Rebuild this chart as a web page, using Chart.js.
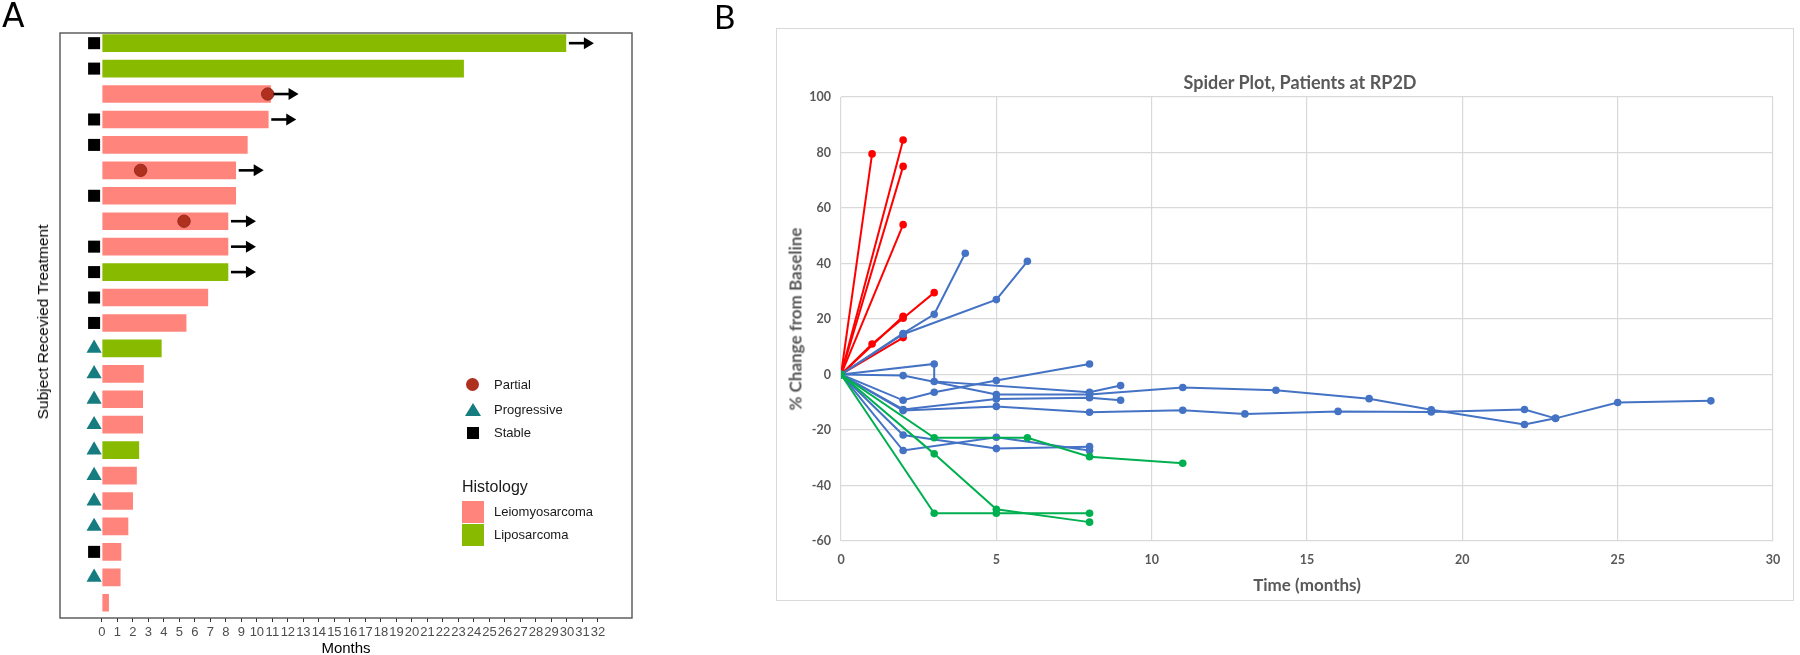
<!DOCTYPE html>
<html><head><meta charset="utf-8">
<script src="https://cdn.jsdelivr.net/npm/chart.js@4.4.1/dist/chart.umd.min.js"></script>
<style>
html,body{margin:0;padding:0;background:#fff;}
body{width:1800px;height:655px;position:relative;overflow:hidden;font-family:"Liberation Sans",Arial,sans-serif;}
.abs{position:absolute;white-space:nowrap;}
.c{transform:translate(-50%,-50%);}
#wrapA{position:absolute;left:0;top:0;width:720px;height:655px;}
#wrapB{position:absolute;left:776px;top:28px;width:1018px;height:573px;border:1px solid #D9D9D9;box-sizing:border-box;}
.leg{font-size:13px;color:#1a1a1a;line-height:16px;}
.bt{font-family:Lato,"Open Sans",sans-serif;font-weight:bold;color:#595959;}
</style></head><body>
<div id="wrapA"><canvas id="chartA"></canvas></div>
<div id="wrapB"><canvas id="chartB"></canvas></div>

<div class="abs" style="left:2px;top:-4px;font-size:33px;font-family:'DejaVu Sans',sans-serif;color:#000;">A</div>
<div class="abs" style="left:714px;top:-4px;font-size:33px;font-family:Lato,sans-serif;color:#000;">B</div>

<!-- Panel A axis titles -->
<div class="abs c" style="left:346px;top:647px;font-size:15px;color:#000;">Months</div>
<div class="abs" style="left:43px;top:322px;font-size:15.5px;color:#000;transform:translate(-50%,-50%) rotate(-90deg);">Subject Recevied Treatment</div>

<!-- Panel A legend -->
<div class="abs" style="left:466px;top:378px;width:13px;height:13px;border-radius:50%;background:#B0301F;"></div>
<div class="abs leg" style="left:494px;top:377px;">Partial</div>
<div class="abs" style="left:465px;top:403px;width:0;height:0;border-left:8px solid transparent;border-right:8px solid transparent;border-bottom:13px solid #167C80;"></div>
<div class="abs leg" style="left:494px;top:402px;">Progressive</div>
<div class="abs" style="left:467px;top:427px;width:12px;height:12px;background:#000;"></div>
<div class="abs leg" style="left:494px;top:425px;">Stable</div>
<div class="abs" style="left:462px;top:478px;font-size:16px;color:#1a1a1a;">Histology</div>
<div class="abs" style="left:462px;top:501px;width:22px;height:22px;background:#FF857C;"></div>
<div class="abs leg" style="left:494px;top:504px;">Leiomyosarcoma</div>
<div class="abs" style="left:462px;top:524px;width:22px;height:22px;background:#88BA00;"></div>
<div class="abs leg" style="left:494px;top:527px;">Liposarcoma</div>

<!-- Panel B titles -->
<div class="abs c bt" style="left:1300px;top:82px;font-size:18px;">Spider Plot, Patients at RP2D</div>
<div class="abs c bt" style="left:1307px;top:584px;font-size:17px;">Time (months)</div>
<div class="abs bt" style="left:795px;top:319px;font-size:17px;transform:translate(-50%,-50%) rotate(-90deg);">% Change from Baseline</div>

<script>
// ---------- Panel A data (swimmer plot) ----------
const durations = [30.0, 23.4, 10.95, 10.8, 9.45, 8.7, 8.7, 8.2, 8.2, 8.2, 6.9, 5.5,
                   3.9, 2.75, 2.7, 2.7, 2.45, 2.3, 2.05, 1.75, 1.3, 1.25, 0.5];
const histology = ['Liposarcoma','Liposarcoma','Leiomyosarcoma','Leiomyosarcoma','Leiomyosarcoma',
  'Leiomyosarcoma','Leiomyosarcoma','Leiomyosarcoma','Leiomyosarcoma','Liposarcoma','Leiomyosarcoma',
  'Leiomyosarcoma','Liposarcoma','Leiomyosarcoma','Leiomyosarcoma','Leiomyosarcoma','Liposarcoma',
  'Leiomyosarcoma','Leiomyosarcoma','Leiomyosarcoma','Leiomyosarcoma','Leiomyosarcoma','Leiomyosarcoma'];
const response = ['Stable','Stable',null,'Stable','Stable',null,'Stable',null,'Stable','Stable','Stable','Stable',
  'Progressive','Progressive','Progressive','Progressive','Progressive','Progressive','Progressive','Progressive',
  'Stable','Progressive',null];
const partialAt = [null,null,10.7,null,null,2.5,null,5.3,null,null,null,null,
                   null,null,null,null,null,null,null,null,null,null,null];
const ongoing = [true,false,true,true,false,true,false,true,true,true,false,false,
                 false,false,false,false,false,false,false,false,false,false,false];
const monthTicks = [0,1,2,3,4,5,6,7,8,9,10,11,12,13,14,15,16,17,18,19,20,21,22,23,24,25,26,27,28,29,30,31,32];
const RESPONSE_MARKER_X = -0.5;

// ---------- Panel B data (spider plot): [month, % change] ----------
const redSeries = [
  [[0,0],[1,79.5]],
  [[0,0],[2,84.5]],
  [[0,0],[2,75]],
  [[0,0],[2,54]],
  [[0,0],[1,11],[2,20.3],[3,29.5]],
  [[0,0],[2,21]],
  [[0,0],[2,13.3]]
];
const blueSeries = [
  [[0,0],[2,14.8],[3,21.7],[4,43.7]],
  [[0,0],[2,14.5],[5,27],[6,40.8]],
  [[0,0],[3,3.8],[3,-2.5],[8,-6.4],[9,-4.0]],
  [[0,0],[2,-0.4],[5,-7.2],[8,-7.2],[11,-4.7],[14,-5.7],[17,-8.7],[19,-12.7],[22,-18],[23,-15.8],[25,-10.1],[28,-9.5]],
  [[0,0],[2,-9.3],[3,-6.4],[5,-2.2],[8,3.8]],
  [[0,0],[2,-12.6],[5,-8.8],[8,-8.4],[9,-9.3]],
  [[0,0],[2,-13],[5,-11.5],[8,-13.6],[11,-12.9],[13,-14.2],[16,-13.3],[19,-13.5],[22,-12.6],[23,-15.8]],
  [[0,0],[2,-21.8],[5,-26.7],[8,-26]],
  [[0,0],[2,-27.4],[5,-22.6],[8,-27.4]]
];
const greenSeries = [
  [[0,0],[3,-22.8],[6,-22.8],[8,-29.6],[11,-32]],
  [[0,0],[3,-28.6],[5,-48.6],[8,-53.2]],
  [[0,0],[3,-50],[5,-50],[8,-50]]
];

// ---------- Panel A chart ----------
const LEIO = '#FF857C', LIPO = '#88BA00';
const ROW_MIN = 0.6, ROW_MAX = 23.6;
const rows = durations.map((_, i) => i + 1);
const barData = durations.map((d, i) => ({x: d, y: rows[i]}));
const barColors = histology.map(h => h === 'Leiomyosarcoma' ? LEIO : LIPO);
const stablePts = [], progPts = [], partialPts = [];
response.forEach((r, i) => {
  if (r === 'Stable') stablePts.push({x: RESPONSE_MARKER_X, y: rows[i]});
  if (r === 'Progressive') progPts.push({x: RESPONSE_MARKER_X, y: rows[i]});
});
partialAt.forEach((p, i) => { if (p !== null) partialPts.push({x: p, y: rows[i]}); });

const boxPlugin = {
  id: 'box',
  afterDraw(chart) {
    const a = chart.chartArea, ctx = chart.ctx;
    ctx.save(); ctx.strokeStyle = '#555'; ctx.lineWidth = 1.4;
    ctx.strokeRect(a.left, a.top, a.right - a.left, a.bottom - a.top);
    ctx.restore();
  }
};
const arrowPlugin = {
  id: 'arrows',
  afterDatasetsDraw(chart) {
    const ctx = chart.ctx, xs = chart.scales.x, ys = chart.scales.y;
    ctx.save(); ctx.fillStyle = '#000'; ctx.strokeStyle = '#000'; ctx.lineWidth = 2.6;
    ongoing.forEach((on, i) => {
      if (!on) return;
      const px = xs.getPixelForValue(durations[i]) + 2;
      const py = ys.getPixelForValue(rows[i]);
      const tip = px + 25;
      ctx.beginPath(); ctx.moveTo(px, py); ctx.lineTo(tip - 7, py); ctx.stroke();
      ctx.beginPath(); ctx.moveTo(tip, py); ctx.lineTo(tip - 10, py - 6); ctx.lineTo(tip - 10, py + 6); ctx.closePath(); ctx.fill();
    });
    ctx.restore();
  }
};

new Chart(document.getElementById('chartA'), {
  type: 'scatter',
  data: {
    datasets: [
      {type: 'bar', indexAxis: 'y', data: barData, backgroundColor: barColors,
       borderColor: 'rgba(255,255,255,0.7)', borderWidth: 1, barThickness: 19, order: 5},
      {data: stablePts, pointStyle: 'rect', radius: 8.5, backgroundColor: '#000', borderWidth: 0, order: 1},
      {data: progPts, pointStyle: 'triangle', radius: 8.8, backgroundColor: '#167C80', borderWidth: 0, order: 1},
      {data: partialPts, pointStyle: 'circle', radius: 6.2, backgroundColor: '#B0301F', borderColor: '#9A2A1C', borderWidth: 1, order: 1}
    ]
  },
  options: {
    responsive: true, maintainAspectRatio: false, animation: false,
    layout: {padding: {left: 60, top: 33, right: 88, bottom: 0}},
    plugins: {legend: {display: false}, tooltip: {enabled: false}},
    scales: {
      x: {type: 'linear', min: -2.7, max: 34.2, offset: false, bounds: 'data',
          afterBuildTicks: s => { s.ticks = monthTicks.map(v => ({value: v})); },
          afterFit: s => { s.height = 37; },
          grid: {drawOnChartArea: false, drawTicks: true, tickLength: 4, color: '#333', lineWidth: 1, offset: false},
          border: {display: false},
          ticks: {autoSkip: false, maxRotation: 0, padding: 3, color: '#4D4D4D',
                  font: {family: 'Liberation Sans', size: 13}}},
      y: {type: 'linear', reverse: true, min: ROW_MIN, max: ROW_MAX, offset: false, bounds: 'data', grace: 0,
          afterDataLimits: s => { s.min = ROW_MIN; s.max = ROW_MAX; },
          grid: {offset: false},
          display: false}
    }
  },
  plugins: [arrowPlugin, boxPlugin]
});

// ---------- Panel B chart ----------
const mk = (series, color) => series.map(s => ({
  data: s.map(p => ({x: p[0], y: p[1]})),
  showLine: true, borderColor: color, backgroundColor: color, borderWidth: 2,
  pointRadius: 3.8, pointBorderWidth: 0, pointHoverRadius: 3.8
}));
new Chart(document.getElementById('chartB'), {
  type: 'scatter',
  data: {datasets: [...mk(greenSeries, '#00B050'), ...mk(blueSeries, '#4472C4'), ...mk(redSeries, '#FF0000')]},
  options: {
    responsive: true, maintainAspectRatio: false, animation: false,
    layout: {padding: {left: 0, top: 68, right: 20, bottom: 0}},
    plugins: {legend: {display: false}, tooltip: {enabled: false}},
    scales: {
      x: {type: 'linear', min: 0, max: 30,
          afterFit: s => { s.height = 59; },
          grid: {color: '#D9D9D9', lineWidth: 1.2, drawTicks: false},
          border: {display: false},
          ticks: {stepSize: 5, padding: 11, color: '#595959', font: {family: 'Lato', size: 12.5, weight: 'bold'}}},
      y: {type: 'linear', min: -60, max: 100,
          afterFit: s => { s.width = 64; },
          grid: {color: '#D9D9D9', lineWidth: 1.2, drawTicks: false},
          border: {display: false},
          ticks: {stepSize: 20, padding: 10, color: '#595959', font: {family: 'Lato', size: 12.5, weight: 'bold'}}}
    }
  }
});
</script>
</body></html>
